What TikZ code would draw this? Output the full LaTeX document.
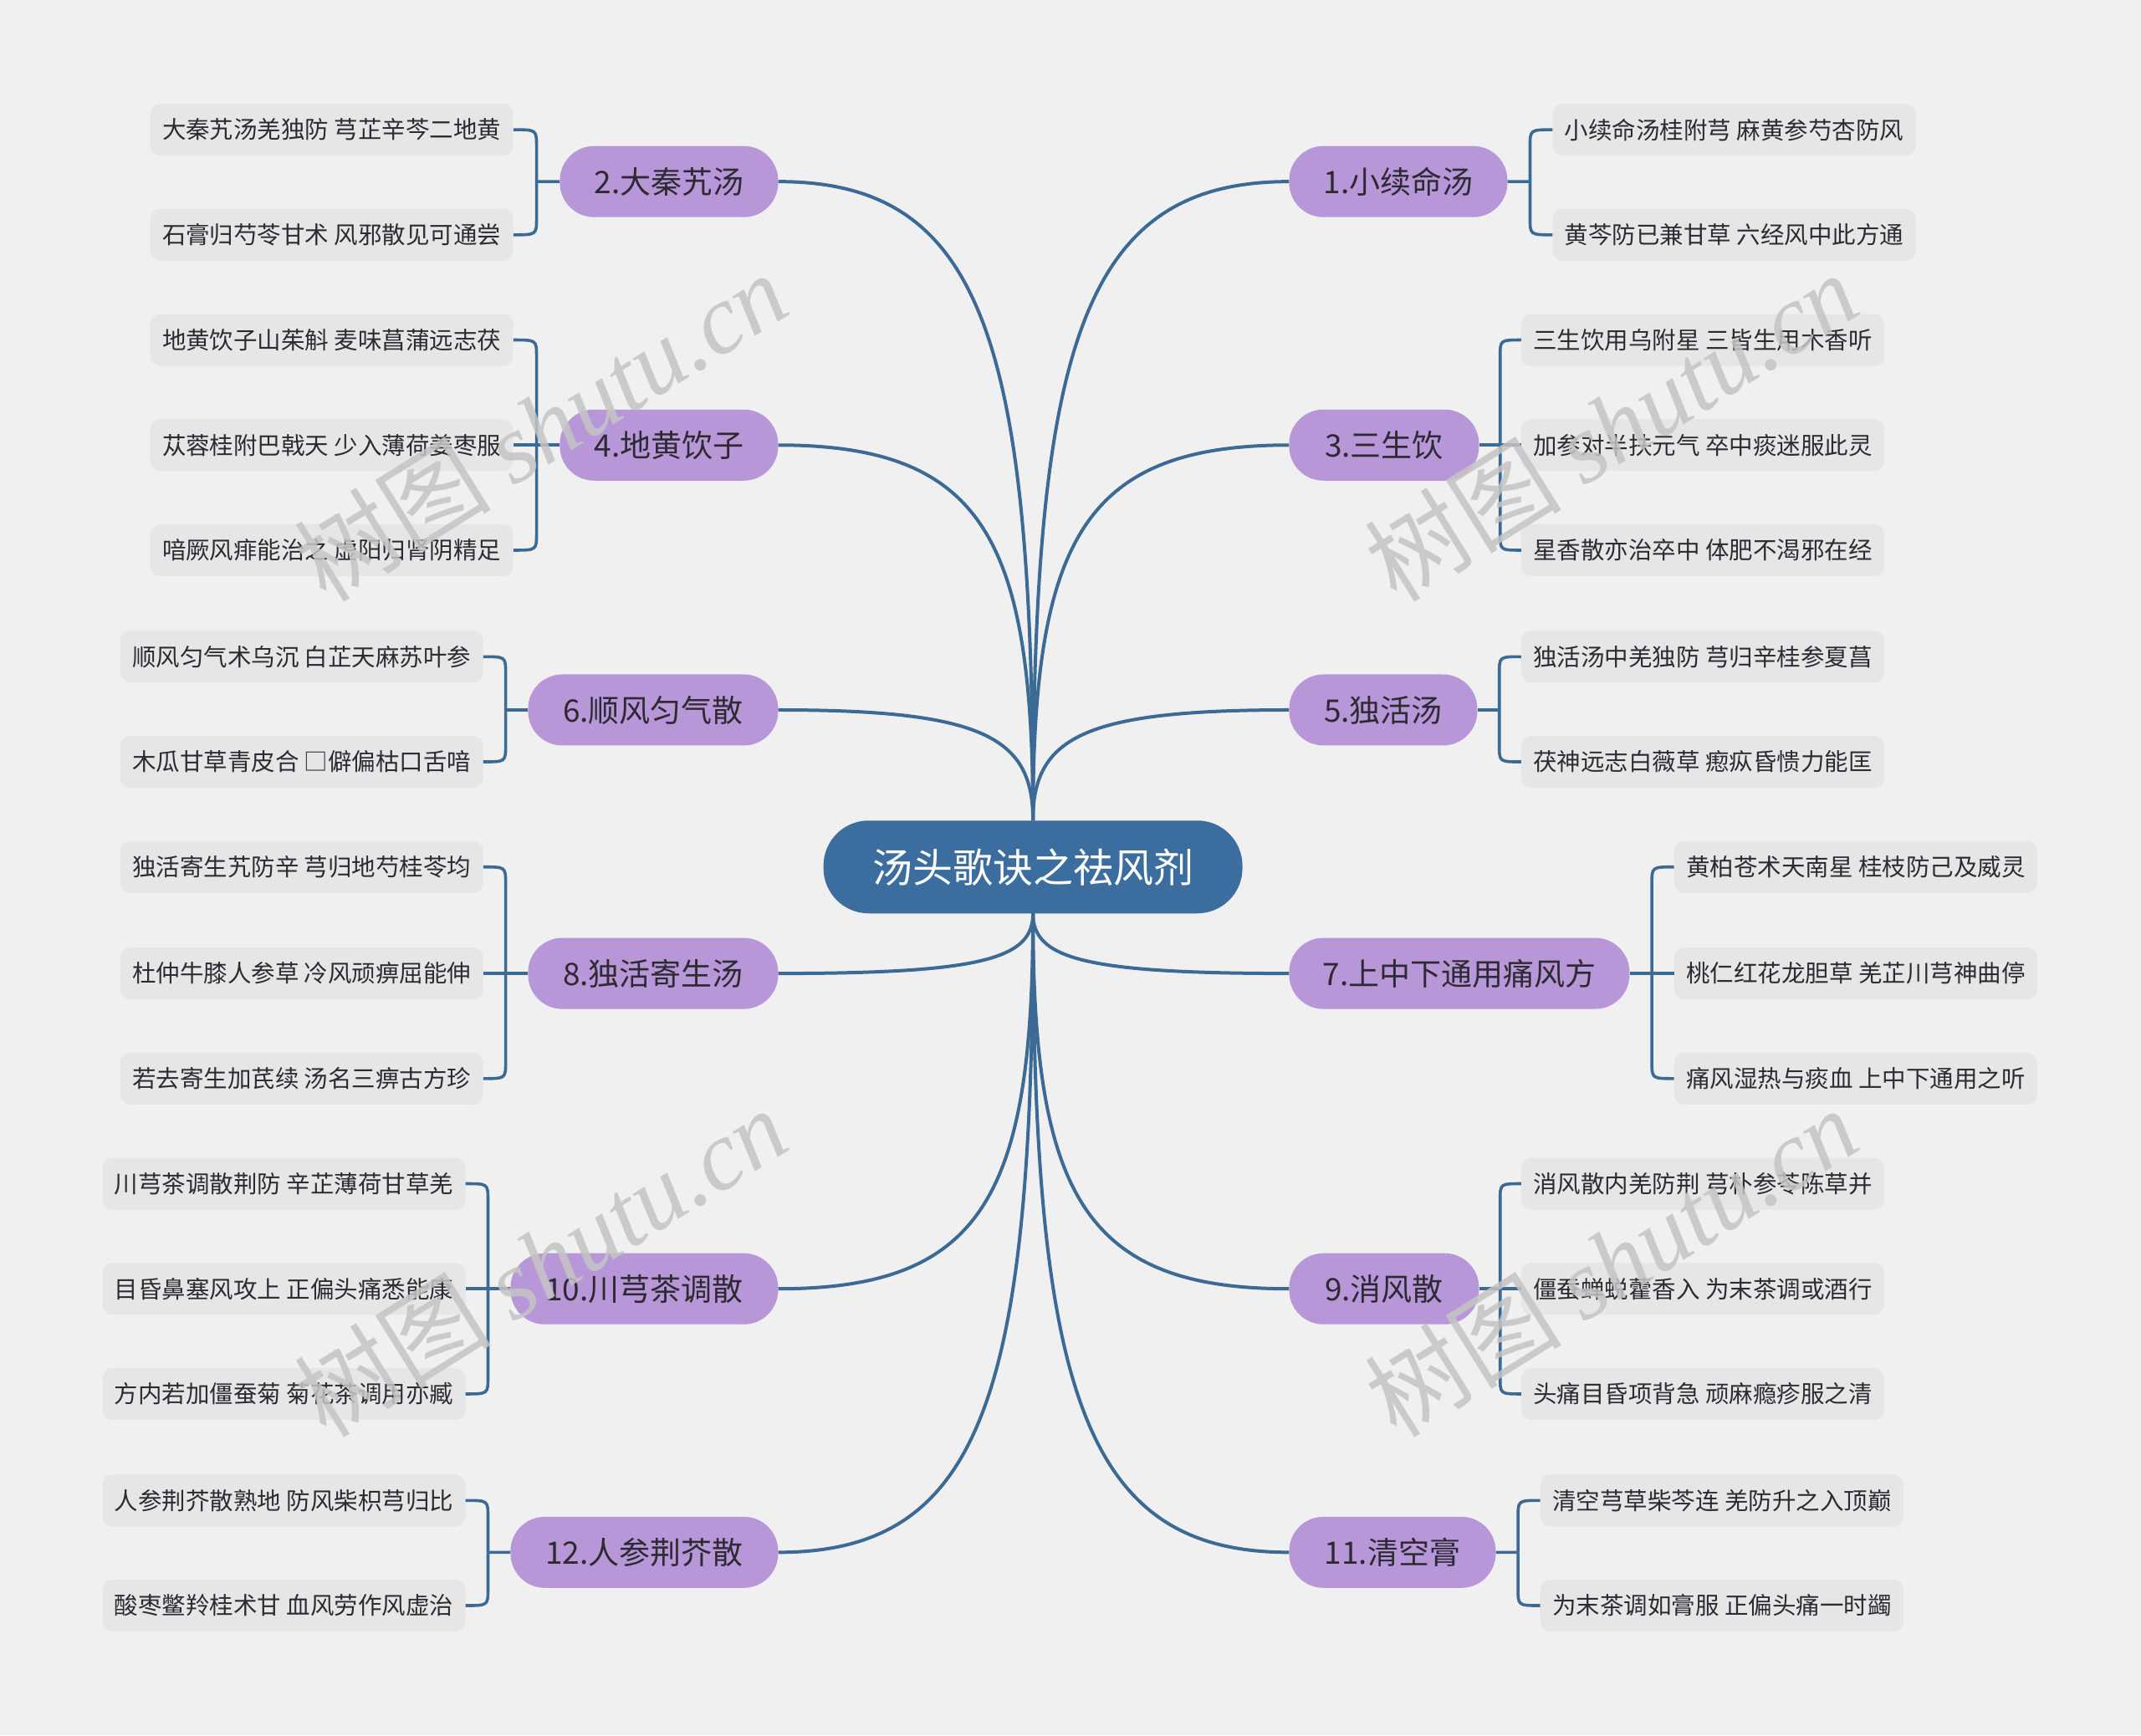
\documentclass[tikz,border=0pt]{standalone}
\usepackage{fontspec}
\setmainfont{Noto Sans CJK SC}
\newfontfamily\wmlatin{Liberation Serif}
\usetikzlibrary{calc}
\definecolor{bgc}{HTML}{F0F0F0}
\definecolor{rootc}{HTML}{3B6E9E}
\definecolor{topc}{HTML}{B797D8}
\definecolor{leafc}{HTML}{E6E6E6}
\definecolor{linec}{HTML}{3B6A95}
\definecolor{txtc}{HTML}{2E2A33}
\definecolor{wmc}{HTML}{C4C4C4}
\newcommand\brR[2]{\draw[br] (#1s) -- ($(#1s |- #2.west)!20pt!(#1s)$) .. controls (#1s |- #2.west) .. (#2.west);}
\newcommand\brL[2]{\draw[br] (#1s) -- ($(#1s |- #2.east)!20pt!(#1s)$) .. controls (#1s |- #2.east) .. (#2.east);}
\begin{document}
\begin{tikzpicture}[x=1.6327pt,y=-1.6327pt,
  root/.style={fill=rootc, text=white, rounded corners=54pt, minimum width=501pt, minimum height=111pt, font=\fontsize{48}{58}\selectfont, inner sep=0pt},
  topic/.style={fill=topc, text=txtc, rounded corners=41pt, minimum height=85pt, font=\fontsize{37}{44}\selectfont, inner sep=0pt},
  leaf/.style={fill=leafc, text=txtc, rounded corners=12pt, minimum width=434pt, minimum height=62pt, font=\fontsize{28.5}{34}\selectfont, inner sep=0pt},
  main/.style={draw=linec, line width=4pt},
  br/.style={draw=linec, line width=3.6pt},
  wm/.style={text=wmc, text opacity=0.85, font=\fontsize{118}{118}\selectfont, inner sep=0pt}]
\fill[bgc] (0,0) rectangle (1568,1271);
\useasboundingbox (0,0) rectangle (1568,1271);

% root
\node[root] (c) at (756.5,635) {汤头歌诀之祛风剂};

% right topics
\node[topic, minimum width=261pt, anchor=west] (n1) at (944,133) {1.小续命汤};
\node[topic, minimum width=227pt, anchor=west] (n3) at (944,326) {3.三生饮};
\node[topic, minimum width=225pt, anchor=west] (n5) at (944,520) {5.独活汤};
\node[topic, minimum width=407pt, anchor=west] (n7) at (944,713) {7.上中下通用痛风方};
\node[topic, minimum width=227pt, anchor=west] (n9) at (944,944) {9.消风散};
\node[topic, minimum width=247pt, anchor=west] (n11) at (944,1137) {11.清空膏};
% left topics
\node[topic, minimum width=261pt, anchor=east] (n2) at (570,133) {2.大秦艽汤};
\node[topic, minimum width=261pt, anchor=east] (n4) at (570,326) {4.地黄饮子};
\node[topic, minimum width=299pt, anchor=east] (n6) at (570,520) {6.顺风匀气散};
\node[topic, minimum width=299pt, anchor=east] (n8) at (570,713) {8.独活寄生汤};
\node[topic, minimum width=320pt, anchor=east] (n10) at (570,944) {10.川芎茶调散};
\node[topic, minimum width=320pt, anchor=east] (n12) at (570,1137) {12.人参荆芥散};

% right leaves
\node[leaf, anchor=west] (l1a) at (1137,95) {小续命汤桂附芎 麻黄参芍杏防风};
\node[leaf, anchor=west] (l1b) at (1137,172) {黄芩防已兼甘草 六经风中此方通};
\node[leaf, anchor=west] (l3a) at (1114,249) {三生饮用乌附星 三皆生用木香听};
\node[leaf, anchor=west] (l3b) at (1114,326) {加参对半扶元气 卒中痰迷服此灵};
\node[leaf, anchor=west] (l3c) at (1114,403) {星香散亦治卒中 体肥不渴邪在经};
\node[leaf, anchor=west] (l5a) at (1114,481) {独活汤中羌独防 芎归辛桂参夏菖};
\node[leaf, anchor=west] (l5b) at (1114,558) {茯神远志白薇草 瘛疭昏愦力能匡};
\node[leaf, anchor=west] (l7a) at (1226,635) {黄柏苍术天南星 桂枝防己及威灵};
\node[leaf, anchor=west] (l7b) at (1226,713) {桃仁红花龙胆草 羌芷川芎神曲停};
\node[leaf, anchor=west] (l7c) at (1226,790) {痛风湿热与痰血 上中下通用之听};
\node[leaf, anchor=west] (l9a) at (1114,867) {消风散内羌防荆 芎朴参苓陈草并};
\node[leaf, anchor=west] (l9b) at (1114,944) {僵蚕蝉蜕藿香入 为末茶调或酒行};
\node[leaf, anchor=west] (l9c) at (1114,1021) {头痛目昏项背急 顽麻瘾疹服之清};
\node[leaf, anchor=west] (l11a) at (1128,1099) {清空芎草柴芩连 羌防升之入顶巅};
\node[leaf, anchor=west] (l11b) at (1128,1176) {为末茶调如膏服 正偏头痛一时蠲};
% left leaves
\node[leaf, anchor=east] (l2a) at (376,95) {大秦艽汤羌独防 芎芷辛芩二地黄};
\node[leaf, anchor=east] (l2b) at (376,172) {石膏归芍苓甘术 风邪散见可通尝};
\node[leaf, anchor=east] (l4a) at (376,249) {地黄饮子山茱斛 麦味菖蒲远志茯};
\node[leaf, anchor=east] (l4b) at (376,326) {苁蓉桂附巴戟天 少入薄荷姜枣服};
\node[leaf, anchor=east] (l4c) at (376,403) {喑厥风痱能治之 虚阳归肾阴精足};
\node[leaf, anchor=east] (l6a) at (354,481) {顺风匀气术乌沉 白芷天麻苏叶参};
\node[leaf, anchor=east] (l6b) at (354,558) {木瓜甘草青皮合 □僻偏枯口舌喑};
\node[leaf, anchor=east] (l8a) at (354,635) {独活寄生艽防辛 芎归地芍桂苓均};
\node[leaf, anchor=east] (l8b) at (354,713) {杜仲牛膝人参草 冷风顽痹屈能伸};
\node[leaf, anchor=east] (l8c) at (354,790) {若去寄生加芪续 汤名三痹古方珍};
\node[leaf, anchor=east] (l10a) at (341,867) {川芎茶调散荆防 辛芷薄荷甘草羌};
\node[leaf, anchor=east] (l10b) at (341,944) {目昏鼻塞风攻上 正偏头痛悉能康};
\node[leaf, anchor=east] (l10c) at (341,1021) {方内若加僵蚕菊 菊花茶调用亦臧};
\node[leaf, anchor=east] (l12a) at (341,1099) {人参荆芥散熟地 防风柴枳芎归比};
\node[leaf, anchor=east] (l12b) at (341,1176) {酸枣鳖羚桂术甘 血风劳作风虚治};

% main connectors
\draw[main] (c.north) .. controls +(0,-351) and +(-150,0) .. (n1.west);
\draw[main] (c.north) .. controls +(0,-206) and +(-150,0) .. (n3.west);
\draw[main] (c.north) .. controls +(0,-61) and +(-150,0) .. (n5.west);
\draw[main] (c.south) .. controls +(0,33) and +(-150,0) .. (n7.west);
\draw[main] (c.south) .. controls +(0,206) and +(-150,0) .. (n9.west);
\draw[main] (c.south) .. controls +(0,351) and +(-150,0) .. (n11.west);
\draw[main] (c.north) .. controls +(0,-351) and +(150,0) .. (n2.east);
\draw[main] (c.north) .. controls +(0,-206) and +(150,0) .. (n4.east);
\draw[main] (c.north) .. controls +(0,-61) and +(150,0) .. (n6.east);
\draw[main] (c.south) .. controls +(0,33) and +(150,0) .. (n8.east);
\draw[main] (c.south) .. controls +(0,206) and +(150,0) .. (n10.east);
\draw[main] (c.south) .. controls +(0,351) and +(150,0) .. (n12.east);

% spines
\coordinate (n1s) at ($(n1.east)!0.5!(l1a.west |- n1.east)$);
\coordinate (n3s) at ($(n3.east)!0.5!(l3a.west |- n3.east)$);
\coordinate (n5s) at ($(n5.east)!0.5!(l5a.west |- n5.east)$);
\coordinate (n7s) at ($(n7.east)!0.5!(l7a.west |- n7.east)$);
\coordinate (n9s) at ($(n9.east)!0.5!(l9a.west |- n9.east)$);
\coordinate (n11s) at ($(n11.east)!0.5!(l11a.west |- n11.east)$);
\coordinate (n2s) at ($(n2.west)!0.5!(l2a.east |- n2.west)$);
\coordinate (n4s) at ($(n4.west)!0.5!(l4a.east |- n4.west)$);
\coordinate (n6s) at ($(n6.west)!0.5!(l6a.east |- n6.west)$);
\coordinate (n8s) at ($(n8.west)!0.5!(l8a.east |- n8.west)$);
\coordinate (n10s) at ($(n10.west)!0.5!(l10a.east |- n10.west)$);
\coordinate (n12s) at ($(n12.west)!0.5!(l12a.east |- n12.west)$);

% right brackets
\draw[br] (n1.east) -- (n1s); \brR{n1}{l1a} \brR{n1}{l1b}
\draw[br] (n3.east) -- (l3b.west); \brR{n3}{l3a} \brR{n3}{l3c}
\draw[br] (n5.east) -- (n5s); \brR{n5}{l5a} \brR{n5}{l5b}
\draw[br] (n7.east) -- (l7b.west); \brR{n7}{l7a} \brR{n7}{l7c}
\draw[br] (n9.east) -- (l9b.west); \brR{n9}{l9a} \brR{n9}{l9c}
\draw[br] (n11.east) -- (n11s); \brR{n11}{l11a} \brR{n11}{l11b}
% left brackets
\draw[br] (n2.west) -- (n2s); \brL{n2}{l2a} \brL{n2}{l2b}
\draw[br] (n4.west) -- (l4b.east); \brL{n4}{l4a} \brL{n4}{l4c}
\draw[br] (n6.west) -- (n6s); \brL{n6}{l6a} \brL{n6}{l6b}
\draw[br] (n8.west) -- (l8b.east); \brL{n8}{l8a} \brL{n8}{l8c}
\draw[br] (n10.west) -- (l10b.east); \brL{n10}{l10a} \brL{n10}{l10c}
\draw[br] (n12.west) -- (n12s); \brL{n12}{l12a} \brL{n12}{l12b}

% watermarks
\node[wm, rotate=32] (w1) at (396,312) {树图 {\wmlatin\itshape shutu.cn}};
\node[wm, rotate=32] (w2) at (1180,312) {树图 {\wmlatin\itshape shutu.cn}};
\node[wm, rotate=32] (w3) at (396,924) {树图 {\wmlatin\itshape shutu.cn}};
\node[wm, rotate=32] (w4) at (1180,924) {树图 {\wmlatin\itshape shutu.cn}};
\end{tikzpicture}
\end{document}
